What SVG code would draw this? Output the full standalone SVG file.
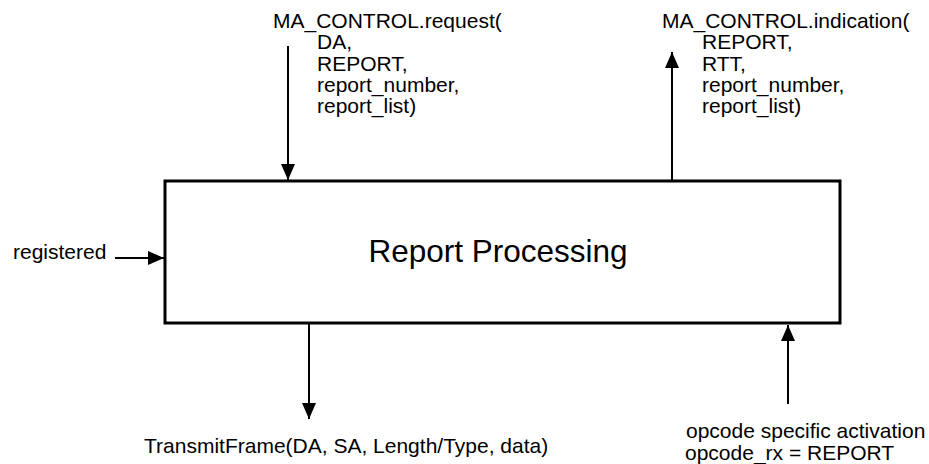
<svg xmlns="http://www.w3.org/2000/svg" width="929" height="464" viewBox="0 0 929 464">
<defs>
<style>
.t{font-family:"Liberation Sans",Arial,sans-serif;font-size:21px;fill:#000}
.big{font-family:"Liberation Sans",Arial,sans-serif;font-size:31.5px;fill:#000}
.c{stroke:#000;stroke-width:2;fill:none;marker-end:url(#ah)}
</style>
<marker id="ah" markerUnits="userSpaceOnUse" markerWidth="16" markerHeight="14" refX="16" refY="7" orient="auto" viewBox="0 0 16 14">
<path d="M0,0 L16,7 L0,14 z" fill="#000"/>
</marker>
</defs>
<rect width="929" height="464" fill="#fff"/>
<g id="report-processing">
<rect x="165" y="181" width="675" height="142" fill="#fff" stroke="#000" stroke-width="3"/>
<text class="big" x="498" y="262" text-anchor="middle">Report Processing</text>
</g>
<g id="ma-control-request">
<text class="t" x="273" y="28">MA_CONTROL.request(</text>
<text class="t" x="317" y="49.3">DA,</text>
<text class="t" x="317" y="70.6">REPORT,</text>
<text class="t" x="317" y="91.9">report_number,</text>
<text class="t" x="317" y="113.2">report_list)</text>
</g>
<g id="ma-control-indication">
<text class="t" x="662" y="28">MA_CONTROL.indication(</text>
<text class="t" x="702" y="49.3">REPORT,</text>
<text class="t" x="702" y="70.6">RTT,</text>
<text class="t" x="702" y="91.9">report_number,</text>
<text class="t" x="702" y="113.2">report_list)</text>
</g>
<g id="registered">
<text class="t" x="13" y="259">registered</text>
</g>
<g id="transmit-frame">
<text class="t" x="144" y="453">TransmitFrame(DA, SA, Length/Type, data)</text>
</g>
<g id="opcode-activation">
<text class="t" x="686" y="438">opcode specific activation</text>
<text class="t" x="685" y="459.5">opcode_rx = REPORT</text>
</g>
<g id="connectors">
<line class="c" x1="288" y1="46" x2="288" y2="180"/>
<line class="c" x1="672" y1="180" x2="672" y2="52"/>
<line class="c" x1="115" y1="258" x2="164" y2="258"/>
<line class="c" x1="309" y1="324" x2="309" y2="419"/>
<line class="c" x1="788" y1="404" x2="788" y2="325"/>
</g>
</svg>
